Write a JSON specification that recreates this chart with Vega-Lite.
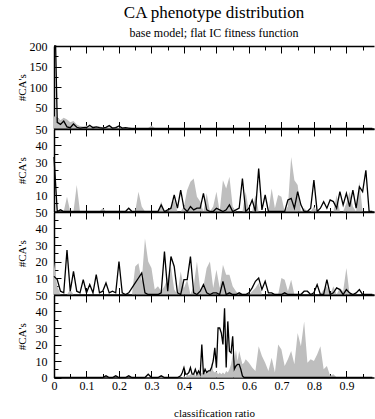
{
  "$schema": "https://vega.github.io/schema/vega-lite/v6.json",
  "padding": {"left": 16, "top": 4, "right": 0, "bottom": 0},
  "title": {"text": "CA phenotype distribution", "subtitle": "base model; flat IC fitness function", "font": "Liberation Serif", "fontSize": 17, "fontWeight": "normal", "color": "black", "subtitleFont": "Liberation Serif", "subtitleFontSize": 12, "subtitleColor": "black", "subtitlePadding": 6, "offset": 0, "anchor": "middle", "frame": "group"},
  "config": {
    "view": {"stroke": null},
    "font": "Liberation Serif",
    "axis": {"grid": false, "domainColor": "black", "domainWidth": 1.5, "tickColor": "black", "tickWidth": 1, "labelFont": "Liberation Serif", "labelFontSize": 12, "labelColor": "black", "titleFont": "Liberation Serif", "titleFontSize": 11, "titleFontWeight": "normal", "titleColor": "black", "labelOverlap": false, "labelFlush": false},
    "axisX": {"labelPadding": 9.5, "titlePadding": 13.5},
    "axisY": {"labelPadding": 14, "titlePadding": 2, "minExtent": 25}
  },
  "spacing": 0,
  "bounds": "flush",
  "datasets": {
    "p1": [
      {"x":0,"g":30,"b":200},{"x":0.005,"g":28,"b":200},{"x":0.01,"g":28,"b":15},{"x":0.02,"g":20,"b":10},{"x":0.03,"g":26,"b":18},{"x":0.04,"g":22,"b":4},{"x":0.05,"g":15,"b":2},{"x":0.06,"g":18,"b":11},{"x":0.07,"g":10,"b":3},{"x":0.08,"g":6,"b":1},{"x":0.09,"g":5,"b":2},
      {"x":0.1,"g":7,"b":2},{"x":0.11,"g":5,"b":8},{"x":0.12,"g":6,"b":2},{"x":0.13,"g":4,"b":4},{"x":0.14,"g":5,"b":2},{"x":0.15,"g":3,"b":1},{"x":0.16,"g":4,"b":3},{"x":0.17,"g":3,"b":7},{"x":0.18,"g":2,"b":1},{"x":0.19,"g":4,"b":2},
      {"x":0.2,"g":2,"b":6},{"x":0.21,"g":3,"b":1},{"x":0.22,"g":1,"b":2},{"x":0.23,"g":1,"b":1},{"x":0.24,"g":0,"b":0},{"x":0.25,"g":0,"b":0},{"x":0.26,"g":0,"b":0},{"x":0.27,"g":0,"b":0},{"x":0.28,"g":0,"b":0},{"x":0.29,"g":1,"b":0},
      {"x":0.3,"g":7,"b":0},{"x":0.31,"g":1,"b":0},{"x":0.32,"g":0,"b":0},{"x":0.33,"g":0,"b":0},{"x":0.34,"g":0,"b":0},{"x":0.35,"g":0,"b":0},{"x":0.36,"g":0,"b":0},{"x":0.37,"g":0,"b":0},{"x":0.38,"g":0,"b":0},{"x":0.39,"g":0,"b":0},
      {"x":0.4,"g":2,"b":0},{"x":0.41,"g":0,"b":0},{"x":0.42,"g":0,"b":0},{"x":0.43,"g":0,"b":0},{"x":0.44,"g":0,"b":0},{"x":0.45,"g":0,"b":0},{"x":0.46,"g":0,"b":0},{"x":0.47,"g":0,"b":0},{"x":0.48,"g":0,"b":0},{"x":0.49,"g":0,"b":0},
      {"x":0.5,"g":0,"b":0},{"x":0.51,"g":2,"b":0},{"x":0.52,"g":0,"b":0},{"x":0.53,"g":0,"b":0},{"x":0.54,"g":0,"b":0},{"x":0.55,"g":0,"b":0},{"x":0.56,"g":0,"b":0},{"x":0.57,"g":0,"b":0},{"x":0.58,"g":0,"b":0},{"x":0.59,"g":0,"b":0},
      {"x":0.6,"g":2,"b":0},{"x":0.61,"g":0,"b":0},{"x":0.62,"g":0,"b":0},{"x":0.63,"g":0,"b":0},{"x":0.64,"g":0,"b":0},{"x":0.65,"g":0,"b":0},{"x":0.66,"g":0,"b":0},{"x":0.67,"g":0,"b":0},{"x":0.68,"g":0,"b":0},{"x":0.69,"g":0,"b":0},
      {"x":0.7,"g":0,"b":0},{"x":0.71,"g":1,"b":0},{"x":0.72,"g":0,"b":0},{"x":0.73,"g":0,"b":0},{"x":0.74,"g":0,"b":0},{"x":0.75,"g":0,"b":0},{"x":0.76,"g":0,"b":0},{"x":0.77,"g":0,"b":0},{"x":0.78,"g":0,"b":0},{"x":0.79,"g":0,"b":0},
      {"x":0.8,"g":0,"b":0},{"x":0.81,"g":0,"b":0},{"x":0.82,"g":0,"b":0},{"x":0.83,"g":0,"b":0},{"x":0.84,"g":0,"b":0},{"x":0.85,"g":0,"b":0},{"x":0.86,"g":0,"b":0},{"x":0.87,"g":0,"b":0},{"x":0.88,"g":0,"b":0},{"x":0.89,"g":0,"b":0},
      {"x":0.9,"g":0,"b":0},{"x":0.91,"g":0,"b":0},{"x":0.92,"g":0,"b":0},{"x":0.93,"g":0,"b":0},{"x":0.94,"g":0,"b":0},{"x":0.95,"g":0,"b":0},{"x":0.96,"g":0,"b":0},{"x":0.97,"g":0,"b":0},{"x":0.98,"g":0,"b":0}
    ],
    "p2": [
      {"x":0,"g":0,"b":33},{"x":0.01,"g":0,"b":0},{"x":0.02,"g":0,"b":1},{"x":0.03,"g":0,"b":0},{"x":0.04,"g":9,"b":0},{"x":0.05,"g":0,"b":0},{"x":0.06,"g":0,"b":0},{"x":0.07,"g":16,"b":0},{"x":0.08,"g":0,"b":0},{"x":0.09,"g":0,"b":0},
      {"x":0.1,"g":0,"b":0},{"x":0.11,"g":0,"b":0},{"x":0.12,"g":0,"b":0},{"x":0.13,"g":0,"b":0},{"x":0.14,"g":0,"b":0},{"x":0.15,"g":2,"b":0},{"x":0.16,"g":0,"b":0},{"x":0.17,"g":0,"b":0},{"x":0.18,"g":0,"b":0},{"x":0.19,"g":0,"b":0},
      {"x":0.2,"g":0,"b":0},{"x":0.21,"g":0,"b":0},{"x":0.22,"g":0,"b":0},{"x":0.23,"g":0,"b":2},{"x":0.24,"g":0,"b":0},{"x":0.25,"g":0,"b":0},{"x":0.26,"g":12,"b":0},{"x":0.27,"g":3,"b":0},{"x":0.28,"g":0,"b":0},{"x":0.29,"g":0,"b":0},
      {"x":0.3,"g":0,"b":0},{"x":0.31,"g":0,"b":0},{"x":0.32,"g":0,"b":0},{"x":0.33,"g":6,"b":4},{"x":0.34,"g":0,"b":0},{"x":0.35,"g":0,"b":1},{"x":0.36,"g":3,"b":2},{"x":0.37,"g":7,"b":10},{"x":0.38,"g":0,"b":2},{"x":0.39,"g":0,"b":13},
      {"x":0.4,"g":3,"b":2},{"x":0.41,"g":13,"b":0},{"x":0.42,"g":18,"b":3},{"x":0.43,"g":20,"b":1},{"x":0.44,"g":9,"b":2},{"x":0.45,"g":6,"b":2},{"x":0.46,"g":0,"b":11},{"x":0.47,"g":11,"b":1},{"x":0.48,"g":0,"b":0},{"x":0.49,"g":3,"b":0},
      {"x":0.5,"g":12,"b":2},{"x":0.51,"g":0,"b":1},{"x":0.52,"g":19,"b":0},{"x":0.53,"g":14,"b":1},{"x":0.54,"g":21,"b":4},{"x":0.55,"g":3,"b":0},{"x":0.56,"g":0,"b":1},{"x":0.57,"g":0,"b":2},{"x":0.58,"g":0,"b":20},{"x":0.59,"g":12,"b":0},
      {"x":0.6,"g":0,"b":2},{"x":0.61,"g":0,"b":7},{"x":0.62,"g":10,"b":0},{"x":0.63,"g":0,"b":26},{"x":0.64,"g":0,"b":1},{"x":0.65,"g":0,"b":10},{"x":0.66,"g":0,"b":0},{"x":0.67,"g":14,"b":0},{"x":0.68,"g":2,"b":0},{"x":0.69,"g":10,"b":0},
      {"x":0.7,"g":9,"b":0},{"x":0.71,"g":0,"b":0},{"x":0.72,"g":3,"b":7},{"x":0.73,"g":33,"b":8},{"x":0.74,"g":19,"b":2},{"x":0.75,"g":16,"b":12},{"x":0.76,"g":0,"b":4},{"x":0.77,"g":2,"b":0},{"x":0.78,"g":0,"b":0},{"x":0.79,"g":0,"b":2},
      {"x":0.8,"g":3,"b":19},{"x":0.81,"g":0,"b":0},{"x":0.82,"g":0,"b":2},{"x":0.83,"g":0,"b":6},{"x":0.84,"g":0,"b":2},{"x":0.85,"g":0,"b":7},{"x":0.86,"g":0,"b":6},{"x":0.87,"g":10,"b":2},{"x":0.88,"g":0,"b":12},{"x":0.89,"g":0,"b":4},
      {"x":0.9,"g":5,"b":11},{"x":0.91,"g":12,"b":3},{"x":0.92,"g":3,"b":13},{"x":0.93,"g":0,"b":2},{"x":0.94,"g":18,"b":15},{"x":0.95,"g":0,"b":12},{"x":0.96,"g":0,"b":25},{"x":0.97,"g":0,"b":0},{"x":0.98,"g":0,"b":0}
    ],
    "p3": [
      {"x":0,"g":20,"b":11},{"x":0.01,"g":5,"b":9},{"x":0.02,"g":0,"b":2},{"x":0.03,"g":0,"b":1},{"x":0.04,"g":0,"b":27},{"x":0.05,"g":3,"b":2},{"x":0.06,"g":0,"b":14},{"x":0.07,"g":0,"b":2},{"x":0.08,"g":0,"b":1},{"x":0.09,"g":0,"b":9},
      {"x":0.1,"g":0,"b":1},{"x":0.11,"g":0,"b":6},{"x":0.12,"g":0,"b":1},{"x":0.13,"g":0,"b":12},{"x":0.14,"g":0,"b":1},{"x":0.15,"g":0,"b":2},{"x":0.16,"g":0,"b":7},{"x":0.17,"g":0,"b":1},{"x":0.18,"g":0,"b":2},{"x":0.19,"g":0,"b":1},
      {"x":0.2,"g":0,"b":20},{"x":0.21,"g":0,"b":1},{"x":0.22,"g":0,"b":0},{"x":0.23,"g":0,"b":1},{"x":0.24,"g":0,"b":4},{"x":0.25,"g":17,"b":7},{"x":0.26,"g":19,"b":10},{"x":0.27,"g":8,"b":13},{"x":0.28,"g":34,"b":1},{"x":0.29,"g":20,"b":0},
      {"x":0.3,"g":16,"b":0},{"x":0.31,"g":3,"b":0},{"x":0.32,"g":5,"b":0},{"x":0.33,"g":2,"b":1},{"x":0.34,"g":5,"b":26},{"x":0.35,"g":10,"b":2},{"x":0.36,"g":17,"b":23},{"x":0.37,"g":3,"b":17},{"x":0.38,"g":0,"b":1},{"x":0.39,"g":14,"b":0},
      {"x":0.4,"g":4,"b":9},{"x":0.41,"g":9,"b":9},{"x":0.42,"g":0,"b":23},{"x":0.43,"g":5,"b":1},{"x":0.44,"g":20,"b":0},{"x":0.45,"g":3,"b":2},{"x":0.46,"g":5,"b":6},{"x":0.47,"g":16,"b":1},{"x":0.48,"g":20,"b":0},{"x":0.49,"g":4,"b":1},
      {"x":0.5,"g":15,"b":1},{"x":0.51,"g":4,"b":0},{"x":0.52,"g":18,"b":8},{"x":0.53,"g":12,"b":0},{"x":0.54,"g":12,"b":1},{"x":0.55,"g":5,"b":0},{"x":0.56,"g":2,"b":0},{"x":0.57,"g":0,"b":1},{"x":0.58,"g":0,"b":0},{"x":0.59,"g":0,"b":0},
      {"x":0.6,"g":0,"b":1},{"x":0.61,"g":2,"b":4},{"x":0.62,"g":4,"b":8},{"x":0.63,"g":7,"b":10},{"x":0.64,"g":0,"b":3},{"x":0.65,"g":0,"b":8},{"x":0.66,"g":0,"b":1},{"x":0.67,"g":0,"b":1},{"x":0.68,"g":0,"b":0},{"x":0.69,"g":0,"b":0},
      {"x":0.7,"g":10,"b":0},{"x":0.71,"g":9,"b":1},{"x":0.72,"g":2,"b":0},{"x":0.73,"g":9,"b":0},{"x":0.74,"g":0,"b":0},{"x":0.75,"g":0,"b":0},{"x":0.76,"g":0,"b":0},{"x":0.77,"g":0,"b":2},{"x":0.78,"g":0,"b":2},{"x":0.79,"g":0,"b":0},
      {"x":0.8,"g":0,"b":1},{"x":0.81,"g":0,"b":6},{"x":0.82,"g":0,"b":0},{"x":0.83,"g":3,"b":0},{"x":0.84,"g":5,"b":9},{"x":0.85,"g":0,"b":0},{"x":0.86,"g":5,"b":1},{"x":0.87,"g":0,"b":4},{"x":0.88,"g":4,"b":3},{"x":0.89,"g":2,"b":0},
      {"x":0.9,"g":16,"b":3},{"x":0.91,"g":0,"b":1},{"x":0.92,"g":0,"b":0},{"x":0.93,"g":0,"b":1},{"x":0.94,"g":0,"b":3},{"x":0.95,"g":0,"b":0},{"x":0.96,"g":0,"b":0},{"x":0.97,"g":0,"b":0},{"x":0.98,"g":0,"b":0}
    ],
    "p4": [
      {"x":0,"g":0,"b":0},{"x":0.01,"g":0,"b":0},{"x":0.02,"g":0,"b":0},{"x":0.03,"g":0,"b":0},{"x":0.04,"g":0,"b":0},{"x":0.05,"g":0,"b":0},{"x":0.06,"g":0,"b":0},{"x":0.07,"g":0,"b":0},{"x":0.08,"g":0,"b":0},{"x":0.09,"g":0,"b":0},
      {"x":0.1,"g":0,"b":0},{"x":0.11,"g":0,"b":0},{"x":0.12,"g":0,"b":0},{"x":0.13,"g":0,"b":0},{"x":0.14,"g":0,"b":0},{"x":0.15,"g":0,"b":0},{"x":0.16,"g":0,"b":1},{"x":0.17,"g":0,"b":0},{"x":0.18,"g":0,"b":0},{"x":0.19,"g":0,"b":1},
      {"x":0.2,"g":0,"b":0},{"x":0.21,"g":0,"b":0},{"x":0.22,"g":0,"b":0},{"x":0.23,"g":0,"b":1},{"x":0.24,"g":0,"b":0},{"x":0.25,"g":0,"b":0},{"x":0.26,"g":0,"b":0},{"x":0.27,"g":0,"b":0},{"x":0.28,"g":0,"b":0},{"x":0.29,"g":0,"b":2},
      {"x":0.3,"g":0,"b":0},{"x":0.31,"g":0,"b":0},{"x":0.32,"g":0,"b":0},{"x":0.33,"g":1,"b":1},{"x":0.34,"g":0,"b":0},{"x":0.35,"g":0,"b":0},{"x":0.36,"g":0,"b":0},{"x":0.37,"g":0,"b":0},{"x":0.38,"g":0,"b":0},{"x":0.39,"g":0,"b":1},
      {"x":0.395,"g":0,"b":3},{"x":0.4,"g":1,"b":6},{"x":0.405,"g":0,"b":2},{"x":0.41,"g":2,"b":2},{"x":0.415,"g":1,"b":3},{"x":0.42,"g":2,"b":6},{"x":0.425,"g":1,"b":2},{"x":0.43,"g":3,"b":2},{"x":0.435,"g":1,"b":5},{"x":0.44,"g":2,"b":2},
      {"x":0.445,"g":3,"b":4},{"x":0.45,"g":2,"b":2},{"x":0.455,"g":3,"b":20},{"x":0.46,"g":2,"b":2},{"x":0.465,"g":3,"b":5},{"x":0.47,"g":2,"b":3},{"x":0.475,"g":4,"b":4},{"x":0.48,"g":3,"b":4},{"x":0.485,"g":9,"b":6},{"x":0.49,"g":4,"b":10},
      {"x":0.495,"g":3,"b":18},{"x":0.5,"g":4,"b":6},{"x":0.505,"g":2,"b":30},{"x":0.51,"g":3,"b":30},{"x":0.515,"g":2,"b":27},{"x":0.52,"g":3,"b":20},{"x":0.525,"g":2,"b":42},{"x":0.53,"g":4,"b":6},{"x":0.535,"g":3,"b":34},{"x":0.54,"g":5,"b":16},
      {"x":0.545,"g":8,"b":15},{"x":0.55,"g":14,"b":25},{"x":0.555,"g":10,"b":5},{"x":0.56,"g":17,"b":7},{"x":0.565,"g":10,"b":8},{"x":0.57,"g":16,"b":8},{"x":0.575,"g":12,"b":5},{"x":0.58,"g":8,"b":1},{"x":0.585,"g":9,"b":0},{"x":0.59,"g":11,"b":0},
      {"x":0.6,"g":9,"b":0},{"x":0.61,"g":6,"b":0},{"x":0.62,"g":4,"b":0},{"x":0.63,"g":19,"b":0},{"x":0.64,"g":13,"b":0},{"x":0.65,"g":9,"b":0},{"x":0.66,"g":4,"b":0},{"x":0.67,"g":12,"b":0},{"x":0.68,"g":3,"b":0},{"x":0.69,"g":20,"b":0},
      {"x":0.7,"g":17,"b":0},{"x":0.71,"g":7,"b":0},{"x":0.72,"g":11,"b":0},{"x":0.73,"g":16,"b":0},{"x":0.74,"g":8,"b":0},{"x":0.75,"g":27,"b":0},{"x":0.76,"g":19,"b":0},{"x":0.77,"g":34,"b":0},{"x":0.78,"g":9,"b":0},{"x":0.79,"g":11,"b":0},
      {"x":0.8,"g":10,"b":0},{"x":0.81,"g":14,"b":0},{"x":0.82,"g":19,"b":0},{"x":0.83,"g":5,"b":0},{"x":0.84,"g":7,"b":0},{"x":0.85,"g":1,"b":0},{"x":0.86,"g":2,"b":0},{"x":0.87,"g":0,"b":0},{"x":0.88,"g":0,"b":0},{"x":0.89,"g":0,"b":0},
      {"x":0.9,"g":0,"b":0},{"x":0.91,"g":0,"b":0},{"x":0.92,"g":0,"b":0},{"x":0.93,"g":0,"b":0},{"x":0.94,"g":0,"b":0},{"x":0.95,"g":0,"b":0},{"x":0.96,"g":0,"b":0},{"x":0.97,"g":0,"b":0},{"x":0.98,"g":0,"b":0}
    ]
  },
  "vconcat": [
    {
      "width": 320, "height": 82.5,
      "data": {"name": "p1"},
      "layer": [
        {"mark": {"type": "area", "color": "#bebebe", "opacity": 1},
         "encoding": {
           "x": {"field": "x", "type": "quantitative", "scale": {"domain": [0, 0.985], "nice": false, "zero": false},
                 "axis": {"orient": "bottom", "labels": false, "title": null, "values": [0,0.05,0.1,0.15,0.2,0.25,0.3,0.35,0.4,0.45,0.5,0.55,0.6,0.65,0.7,0.75,0.8,0.85,0.9,0.95], "tickSize": {"condition": {"test": "round(datum.value*20) % 2 == 1", "value": -4}, "value": -7}}},
           "y": {"field": "g", "type": "quantitative", "scale": {"domain": [0, 200], "nice": false},
                 "axis": {"title": "#CA's", "values": [0,25,50,75,100,125,150,175,200], "tickSize": {"condition": {"test": "datum.value % 10 == 5", "value": -4}, "value": -7}, "labelExpr": "datum.value % 10 == 5 || datum.value == 0 ? '' : datum.label"}}}},
        {"mark": {"type": "line", "color": "black", "strokeWidth": 1.3},
         "encoding": {
           "x": {"field": "x", "type": "quantitative",
                 "axis": {"orient": "top", "labels": false, "title": null, "values": [0,0.05,0.1,0.15,0.2,0.25,0.3,0.35,0.4,0.45,0.5,0.55,0.6,0.65,0.7,0.75,0.8,0.85,0.9,0.95], "tickSize": {"condition": {"test": "round(datum.value*20) % 2 == 1", "value": -4}, "value": -7}}},
           "y": {"field": "b", "type": "quantitative",
                 "axis": {"title": "#CA's", "values": [0,25,50,75,100,125,150,175,200], "tickSize": {"condition": {"test": "datum.value % 10 == 5", "value": -4}, "value": -7}, "labelExpr": "datum.value % 10 == 5 || datum.value == 0 ? '' : datum.label"}}}}
      ],
      "resolve": {"axis": {"x": "independent"}}
    },
    {
      "width": 320, "height": 82.5,
      "data": {"name": "p2"},
      "layer": [
        {"mark": {"type": "area", "color": "#bebebe", "opacity": 1},
         "encoding": {
           "x": {"field": "x", "type": "quantitative", "scale": {"domain": [0, 0.985], "nice": false, "zero": false},
                 "axis": {"orient": "bottom", "labels": false, "title": null, "values": [0,0.05,0.1,0.15,0.2,0.25,0.3,0.35,0.4,0.45,0.5,0.55,0.6,0.65,0.7,0.75,0.8,0.85,0.9,0.95], "tickSize": {"condition": {"test": "round(datum.value*20) % 2 == 1", "value": -4}, "value": -7}}},
           "y": {"field": "g", "type": "quantitative", "scale": {"domain": [0, 50], "nice": false},
                 "axis": {"title": "#CA's", "values": [0,5,10,15,20,25,30,35,40,45,50], "tickSize": {"condition": {"test": "datum.value % 10 == 5", "value": -4}, "value": -7}, "labelExpr": "datum.value % 10 == 5 || datum.value == 0 ? '' : datum.label"}}}},
        {"mark": {"type": "line", "color": "black", "strokeWidth": 1.3},
         "encoding": {
           "x": {"field": "x", "type": "quantitative",
                 "axis": {"orient": "top", "labels": false, "title": null, "values": [0,0.05,0.1,0.15,0.2,0.25,0.3,0.35,0.4,0.45,0.5,0.55,0.6,0.65,0.7,0.75,0.8,0.85,0.9,0.95], "tickSize": {"condition": {"test": "round(datum.value*20) % 2 == 1", "value": -4}, "value": -7}}},
           "y": {"field": "b", "type": "quantitative",
                 "axis": {"title": "#CA's", "values": [0,5,10,15,20,25,30,35,40,45,50], "tickSize": {"condition": {"test": "datum.value % 10 == 5", "value": -4}, "value": -7}, "labelExpr": "datum.value % 10 == 5 || datum.value == 0 ? '' : datum.label"}}}}
      ],
      "resolve": {"axis": {"x": "independent"}}
    },
    {
      "width": 320, "height": 82.5,
      "data": {"name": "p3"},
      "layer": [
        {"mark": {"type": "area", "color": "#bebebe", "opacity": 1},
         "encoding": {
           "x": {"field": "x", "type": "quantitative", "scale": {"domain": [0, 0.985], "nice": false, "zero": false},
                 "axis": {"orient": "bottom", "labels": false, "title": null, "values": [0,0.05,0.1,0.15,0.2,0.25,0.3,0.35,0.4,0.45,0.5,0.55,0.6,0.65,0.7,0.75,0.8,0.85,0.9,0.95], "tickSize": {"condition": {"test": "round(datum.value*20) % 2 == 1", "value": -4}, "value": -7}}},
           "y": {"field": "g", "type": "quantitative", "scale": {"domain": [0, 50], "nice": false},
                 "axis": {"title": "#CA's", "values": [0,5,10,15,20,25,30,35,40,45,50], "tickSize": {"condition": {"test": "datum.value % 10 == 5", "value": -4}, "value": -7}, "labelExpr": "datum.value % 10 == 5 || datum.value == 0 ? '' : datum.label"}}}},
        {"mark": {"type": "line", "color": "black", "strokeWidth": 1.3},
         "encoding": {
           "x": {"field": "x", "type": "quantitative",
                 "axis": {"orient": "top", "labels": false, "title": null, "values": [0,0.05,0.1,0.15,0.2,0.25,0.3,0.35,0.4,0.45,0.5,0.55,0.6,0.65,0.7,0.75,0.8,0.85,0.9,0.95], "tickSize": {"condition": {"test": "round(datum.value*20) % 2 == 1", "value": -4}, "value": -7}}},
           "y": {"field": "b", "type": "quantitative",
                 "axis": {"title": "#CA's", "values": [0,5,10,15,20,25,30,35,40,45,50], "tickSize": {"condition": {"test": "datum.value % 10 == 5", "value": -4}, "value": -7}, "labelExpr": "datum.value % 10 == 5 || datum.value == 0 ? '' : datum.label"}}}}
      ],
      "resolve": {"axis": {"x": "independent"}}
    },
    {
      "width": 320, "height": 82.5,
      "data": {"name": "p4"},
      "layer": [
        {"mark": {"type": "area", "color": "#bebebe", "opacity": 1},
         "encoding": {
           "x": {"field": "x", "type": "quantitative", "scale": {"domain": [0, 0.985], "nice": false, "zero": false},
                 "axis": {"orient": "bottom", "title": "classification ratio", "format": ".1~f", "values": [0,0.05,0.1,0.15,0.2,0.25,0.3,0.35,0.4,0.45,0.5,0.55,0.6,0.65,0.7,0.75,0.8,0.85,0.9,0.95], "labelExpr": "round(datum.value*20) % 2 == 1 ? '' : datum.label", "tickSize": {"condition": {"test": "round(datum.value*20) % 2 == 1", "value": -4}, "value": -7}}},
           "y": {"field": "g", "type": "quantitative", "scale": {"domain": [0, 50], "nice": false},
                 "axis": {"title": "#CA's", "values": [0,5,10,15,20,25,30,35,40,45,50], "tickSize": {"condition": {"test": "datum.value % 10 == 5", "value": -4}, "value": -7}, "labelExpr": "datum.value % 10 == 5 ? '' : datum.label"}}}},
        {"mark": {"type": "line", "color": "black", "strokeWidth": 1.3},
         "encoding": {
           "x": {"field": "x", "type": "quantitative",
                 "axis": {"orient": "top", "labels": false, "title": null, "values": [0,0.05,0.1,0.15,0.2,0.25,0.3,0.35,0.4,0.45,0.5,0.55,0.6,0.65,0.7,0.75,0.8,0.85,0.9,0.95], "tickSize": {"condition": {"test": "round(datum.value*20) % 2 == 1", "value": -4}, "value": -7}}},
           "y": {"field": "b", "type": "quantitative",
                 "axis": {"title": "#CA's", "values": [0,5,10,15,20,25,30,35,40,45,50], "tickSize": {"condition": {"test": "datum.value % 10 == 5", "value": -4}, "value": -7}, "labelExpr": "datum.value % 10 == 5 ? '' : datum.label"}}}}
      ],
      "resolve": {"axis": {"x": "independent"}}
    }
  ]
}
